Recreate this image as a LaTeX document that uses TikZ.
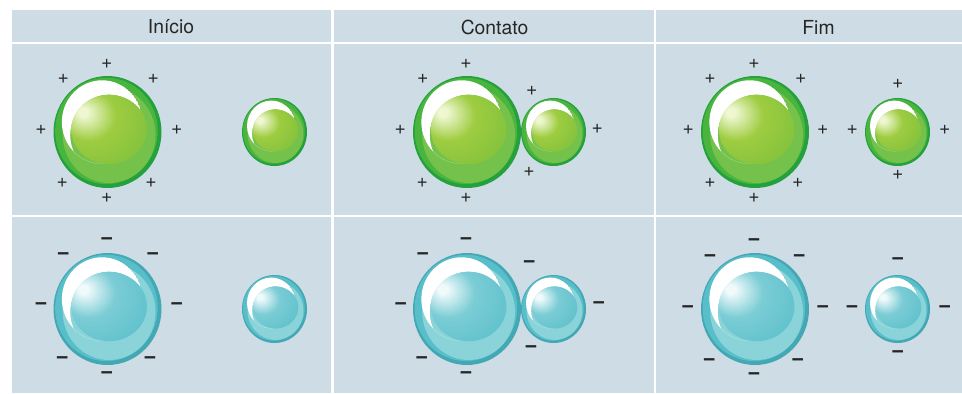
\documentclass[tikz,border=0pt]{standalone}
\usepackage{fontspec}
\setmainfont{TeX Gyre Heros}
\usepackage{tikz}
\usetikzlibrary{calc}

\definecolor{panelbg}{HTML}{CEDDE5}
% green ball
\definecolor{gRim}{HTML}{24A03D}
\definecolor{gBody}{HTML}{4AB53E}
\definecolor{gBand}{HTML}{74C14B}
\definecolor{gHi}{HTML}{EFF7D2}
\definecolor{gMid}{HTML}{9ECC40}
\definecolor{gLo}{HTML}{62B63A}
% cyan ball
\definecolor{cRim}{HTML}{43A8B4}
\definecolor{cBody}{HTML}{58BEC9}
\definecolor{cBand}{HTML}{8AD3D9}
\definecolor{cHi}{HTML}{F0FAFB}
\definecolor{cMid}{HTML}{7BCCD5}
\definecolor{cLo}{HTML}{4CBAC6}

\pgfdeclareradialshading{greengloss}{\pgfqpoint{-18bp}{13bp}}{color(0bp)=(gHi); color(3bp)=(gHi); color(18bp)=(gMid); color(42bp)=(gLo!55!gMid); color(60bp)=(gLo); color(75bp)=(gLo)}
\pgfdeclareradialshading{cyangloss}{\pgfqpoint{-18bp}{13bp}}{color(0bp)=(cHi); color(3bp)=(cHi); color(18bp)=(cMid); color(42bp)=(cLo!70!cMid); color(60bp)=(cLo); color(75bp)=(cLo)}

\tikzset{
  % #1 rim, #2 body, #3 lower band, #4 shading of the inner ball
  pics/ball/.style n args={4}{code={
    \fill[#1] (0,0) circle (1);
    \fill[#2] (-0.02,-0.02) circle (0.95);
    \fill[#3] (0.03,0.05) circle (0.86);
    % white crescent
    \begin{scope}
      \clip (-0.1,-0.178) circle (0.7455);
      \fill[white, even odd rule] (-0.1,-0.178) circle (0.7455) (0.029,0.052) circle (0.7194);
    \end{scope}
    \shade[shading=#4] (0.03,-0.045) ellipse (0.7 and 0.62);
  }},
  gridline/.style={white, line width=1.4pt},
  head/.style={font=\fontsize{11}{13}\selectfont, text=black!85},
  poschg/.style={font=\fontsize{11}{11}\selectfont, text=black!85, inner sep=0pt},
  negchg/.style={font=\fontsize{13}{13}\selectfont\bfseries, text=black!85, inner sep=0pt},
}

\begin{document}
\begin{tikzpicture}[x=0.02cm, y=-0.02cm]
  \useasboundingbox (0,0) rectangle (962,393);
  \fill[white] (0,0) rectangle (962,393);
  \fill[panelbg] (12,10) rectangle (962,393);
  \draw[gridline] (12,43) -- (962,43);
  \draw[gridline] (12,216) -- (962,216);
  \draw[gridline] (332.5,10) -- (332.5,393);
  \draw[gridline] (655,10) -- (655,393);

  \node[head] (hd1) at (171,27) {Início};
  \node[head] (hd2) at (494.5,27) {Contato};
  \node[head] (hd3) at (818.5,27) {Fim};

  \path
    (107.5,132) coordinate (g1)
    (274.5,132) coordinate (g2)
    (467,132) coordinate (g3)
    (553.5,132) coordinate (g4)
    (755,132) coordinate (g5)
    (897.5,132) coordinate (g6)
    (107.5,309) coordinate (c1)
    (274.5,309) coordinate (c2)
    (467,309) coordinate (c3)
    (553.5,309) coordinate (c4)
    (755,309) coordinate (c5)
    (897.5,309) coordinate (c6)
    ;

  % the balls
  \path (g1) pic[xscale=54,yscale=56] {ball={gRim}{gBody}{gBand}{greengloss}};
  \path (g2) pic[xscale=32.5,yscale=34] {ball={gRim}{gBody}{gBand}{greengloss}};
  \path (g3) pic[xscale=54,yscale=56] {ball={gRim}{gBody}{gBand}{greengloss}};
  \path (g4) pic[xscale=32.5,yscale=34] {ball={gRim}{gBody}{gBand}{greengloss}};
  \path (g5) pic[xscale=54,yscale=56] {ball={gRim}{gBody}{gBand}{greengloss}};
  \path (g6) pic[xscale=32.5,yscale=34] {ball={gRim}{gBody}{gBand}{greengloss}};
  \path (c1) pic[xscale=54,yscale=56] {ball={cRim}{cBody}{cBand}{cyangloss}};
  \path (c2) pic[xscale=32.5,yscale=34] {ball={cRim}{cBody}{cBand}{cyangloss}};
  \path (c3) pic[xscale=54,yscale=56] {ball={cRim}{cBody}{cBand}{cyangloss}};
  \path (c4) pic[xscale=32.5,yscale=34] {ball={cRim}{cBody}{cBand}{cyangloss}};
  \path (c5) pic[xscale=54,yscale=56] {ball={cRim}{cBody}{cBand}{cyangloss}};
  \path (c6) pic[xscale=32.5,yscale=34] {ball={cRim}{cBody}{cBand}{cyangloss}};

  % positive charges
  \path
    (106.7,64.3) node[poschg] (pa1) {+}
    (63.3,79.3) node[poschg] (pa2) {+}
    (153.3,79.3) node[poschg] (pa3) {+}
    (41,130) node[poschg] (pa4) {+}
    (176.7,130) node[poschg] (pa5) {+}
    (62.3,183.3) node[poschg] (pa6) {+}
    (151,182.7) node[poschg] (pa7) {+}
    (106.7,198.3) node[poschg] (pa8) {+}
    (466,64.3) node[poschg] (pb1) {+}
    (422.7,79.3) node[poschg] (pb2) {+}
    (400.3,130) node[poschg] (pb3) {+}
    (422.3,182.7) node[poschg] (pb4) {+}
    (466,198.3) node[poschg] (pb5) {+}
    (531.7,90.7) node[poschg] (pb6) {+}
    (597.3,128.7) node[poschg] (pb7) {+}
    (529,172.3) node[poschg] (pb8) {+}
    (754,64) node[poschg] (pc1) {+}
    (710,79.3) node[poschg] (pc2) {+}
    (800.7,79.3) node[poschg] (pc3) {+}
    (688.3,130) node[poschg] (pc4) {+}
    (822.7,130) node[poschg] (pc5) {+}
    (710,182.7) node[poschg] (pc6) {+}
    (797.7,182.7) node[poschg] (pc7) {+}
    (754,198.3) node[poschg] (pc8) {+}
    (897.7,84.3) node[poschg] (pc9) {+}
    (852.3,130) node[poschg] (pc10) {+}
    (944.7,130) node[poschg] (pc11) {+}
    (897.7,175) node[poschg] (pc12) {+}
    ;

  % negative charges
  \path
    (106.7,241) node[negchg] (na1) {−}
    (63.3,256) node[negchg] (na2) {−}
    (152.7,256) node[negchg] (na3) {−}
    (41,306) node[negchg] (na4) {−}
    (176.7,306) node[negchg] (na5) {−}
    (62.3,360) node[negchg] (na6) {−}
    (150,360) node[negchg] (na7) {−}
    (106.7,375) node[negchg] (na8) {−}
    (466,241) node[negchg] (nb1) {−}
    (422.7,256) node[negchg] (nb2) {−}
    (400.7,306) node[negchg] (nb3) {−}
    (421.7,360) node[negchg] (nb4) {−}
    (466,375) node[negchg] (nb5) {−}
    (529.3,264.3) node[negchg] (nb6) {−}
    (598.7,305) node[negchg] (nb7) {−}
    (531,348.7) node[negchg] (nb8) {−}
    (754,242.3) node[negchg] (nc1) {−}
    (710,257.7) node[negchg] (nc2) {−}
    (799.3,257.7) node[negchg] (nc3) {−}
    (687.7,308.7) node[negchg] (nc4) {−}
    (822.7,308.7) node[negchg] (nc5) {−}
    (709.3,361.7) node[negchg] (nc6) {−}
    (797.7,361.7) node[negchg] (nc7) {−}
    (754,376) node[negchg] (nc8) {−}
    (897.7,260.7) node[negchg] (nc9) {−}
    (852,308.7) node[negchg] (nc10) {−}
    (944.7,308.7) node[negchg] (nc11) {−}
    (897.7,354.3) node[negchg] (nc12) {−}
    ;
\end{tikzpicture}
\end{document}
